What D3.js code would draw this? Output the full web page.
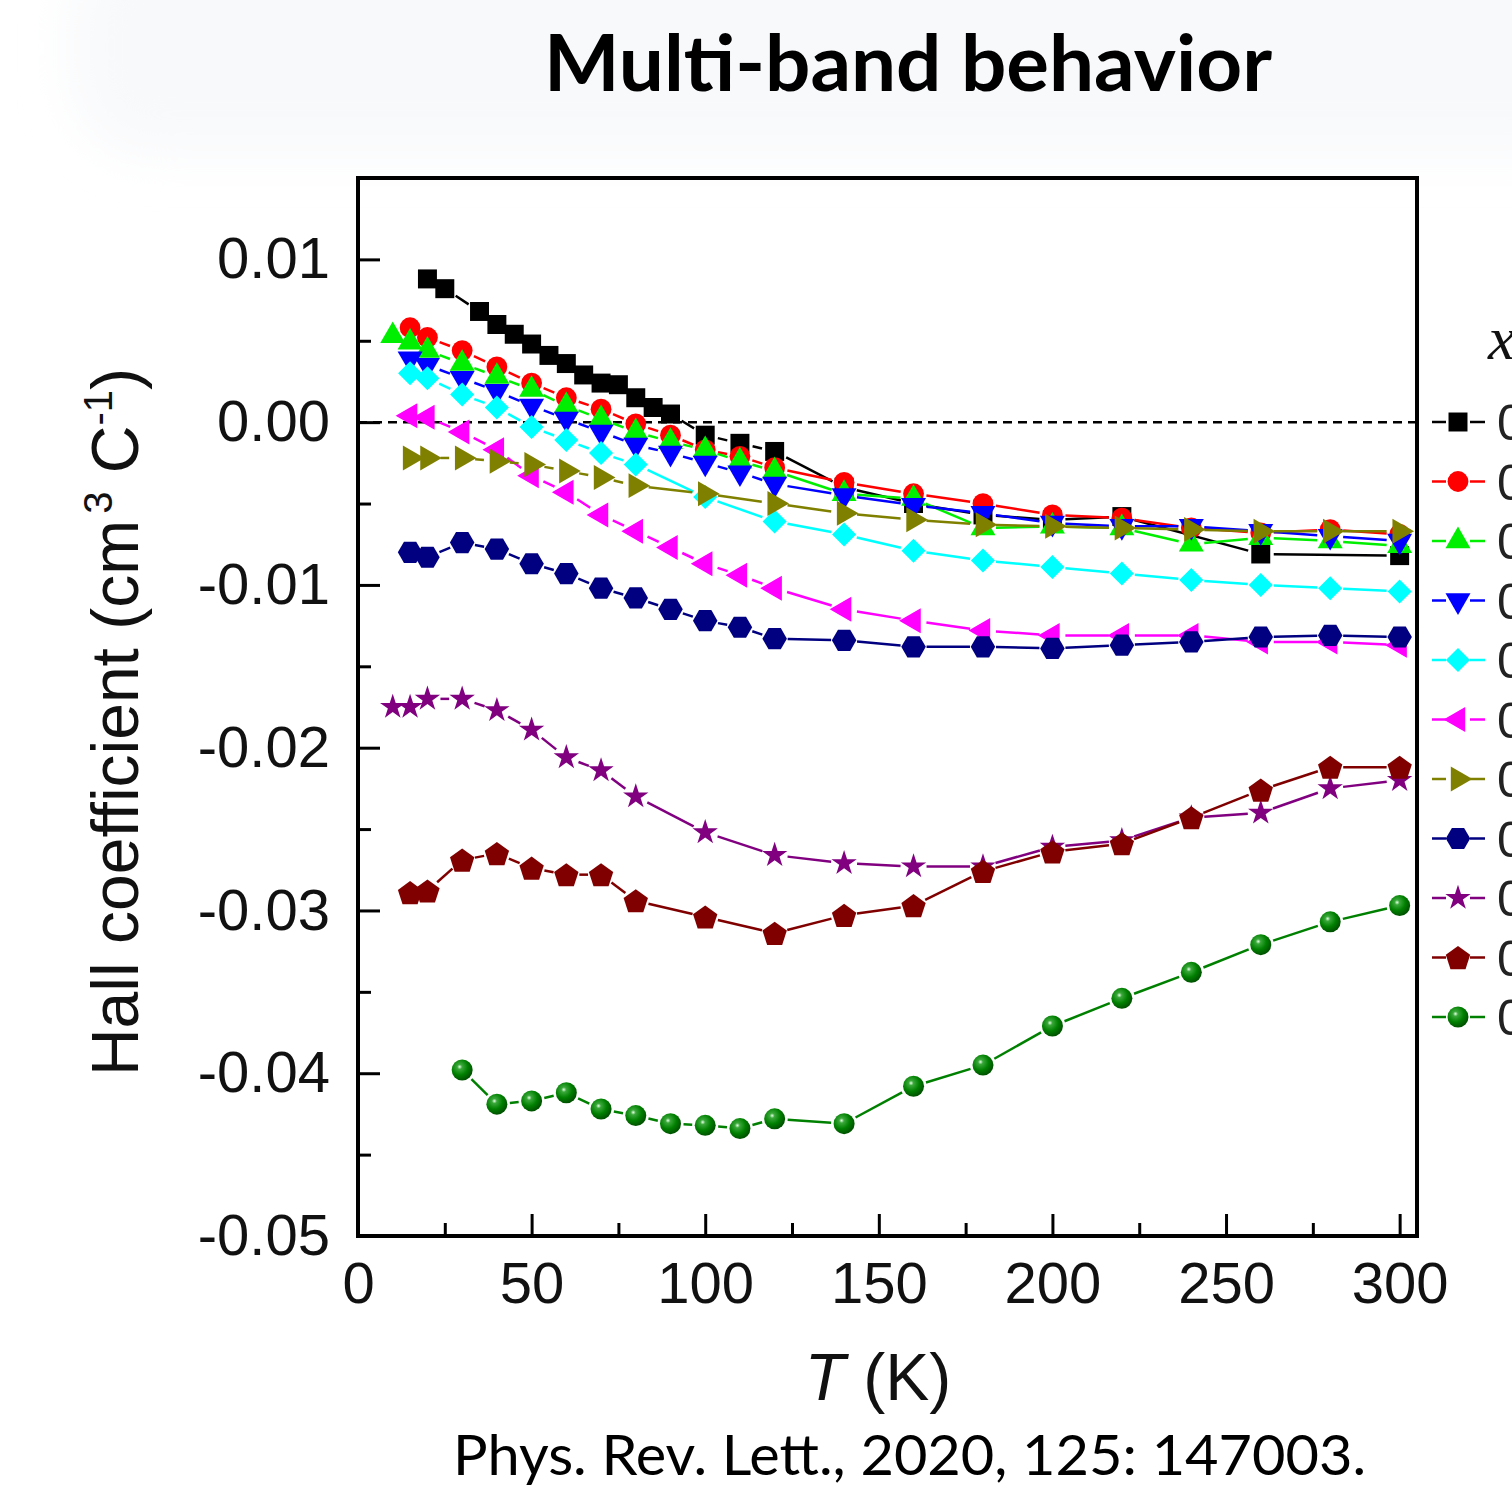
<!DOCTYPE html>
<html>
<head>
<meta charset="utf-8">
<script src="https://cdn.jsdelivr.net/npm/d3@7"></script>
<style>
  html, body { margin: 0; padding: 0; background: #ffffff; overflow: hidden; }
  svg { display: block; }
</style>
</head>
<body>
<svg id="chart" width="1512" height="1488"></svg>
<script>
// ---- data: Hall coefficient R_H (cm^3 C^-1) versus temperature T (K) ----
const seriesNames = ["0.00", "0.02", "0.04", "0.06", "0.08", "0.10", "0.12", "0.14", "0.16", "0.18", "0.20"];

const tBlack = [20, 25, 35, 40, 45, 50, 55, 60, 65, 70, 75, 80, 85, 90, 100, 110, 120, 140, 160, 180, 200, 220, 260, 300];
const rBlack = [0.0088, 0.0082, 0.0068, 0.0060, 0.0054, 0.0048, 0.0041, 0.0036, 0.0029, 0.0024, 0.0023, 0.0015, 0.0009, 0.0005, -0.0008, -0.0013, -0.0018, -0.0040, -0.0050, -0.0057, -0.0060, -0.0058, -0.0081, -0.0082];

const tRed = [15, 20, 30, 40, 50, 60, 70, 80, 90, 100, 110, 120, 140, 160, 180, 200, 220, 240, 260, 280, 300];
const rRed = [0.0058, 0.0052, 0.0044, 0.0034, 0.0024, 0.0015, 0.0008, -0.0001, -0.0008, -0.0017, -0.0021, -0.0028, -0.0037, -0.0044, -0.0050, -0.0057, -0.0059, -0.0065, -0.0068, -0.0066, -0.0069];

const tLime = [10, 15, 20, 30, 40, 50, 60, 70, 80, 90, 100, 110, 120, 140, 160, 180, 200, 220, 240, 260, 280, 300];
const rLime = [0.0053, 0.0049, 0.0044, 0.0036, 0.0028, 0.0020, 0.0010, 0.0002, -0.0006, -0.0012, -0.0017, -0.0024, -0.0030, -0.0044, -0.0047, -0.0065, -0.0064, -0.0065, -0.0075, -0.0071, -0.0073, -0.0076];

const tBlue = [15, 20, 30, 40, 50, 60, 70, 80, 90, 100, 110, 120, 140, 160, 180, 200, 220, 240, 260, 280, 300];
const rBlue = [0.0039, 0.0035, 0.0027, 0.0019, 0.0010, 0.0002, -0.0006, -0.0014, -0.0019, -0.0025, -0.0031, -0.0038, -0.0045, -0.0051, -0.0056, -0.0062, -0.0064, -0.0064, -0.0067, -0.0070, -0.0073];

const tCyan = [15, 20, 30, 40, 50, 60, 70, 80, 100, 120, 140, 160, 180, 200, 220, 240, 260, 280, 300];
const rCyan = [0.0030, 0.0027, 0.0017, 0.0009, -0.0003, -0.0011, -0.0019, -0.0026, -0.0046, -0.0061, -0.0069, -0.0079, -0.0085, -0.0089, -0.0093, -0.0097, -0.0100, -0.0102, -0.0104];

const tMagenta = [15, 20, 30, 40, 50, 60, 70, 80, 90, 100, 110, 120, 140, 160, 180, 200, 220, 240, 260, 280, 300];
const rMagenta = [0.0004, 0.0003, -0.0006, -0.0017, -0.0033, -0.0043, -0.0057, -0.0067, -0.0077, -0.0087, -0.0094, -0.0102, -0.0115, -0.0122, -0.0128, -0.0131, -0.0131, -0.0131, -0.0135, -0.0135, -0.0137];

const tOlive = [15, 20, 30, 40, 50, 60, 70, 80, 100, 120, 140, 160, 180, 200, 220, 240, 260, 280, 300];
const rOlive = [-0.0022, -0.0022, -0.0022, -0.0024, -0.0026, -0.0030, -0.0034, -0.0039, -0.0044, -0.0050, -0.0056, -0.0060, -0.0063, -0.0064, -0.0065, -0.0066, -0.0067, -0.0067, -0.0067];

const tNavy = [15, 20, 30, 40, 50, 60, 70, 80, 90, 100, 110, 120, 140, 160, 180, 200, 220, 240, 260, 280, 300];
const rNavy = [-0.0080, -0.0083, -0.0074, -0.0078, -0.0087, -0.0093, -0.0102, -0.0108, -0.0115, -0.0122, -0.0126, -0.0133, -0.0134, -0.0138, -0.0138, -0.0139, -0.0137, -0.0135, -0.0132, -0.0131, -0.0132];

const tPurple = [10, 15, 20, 30, 40, 50, 60, 70, 80, 100, 120, 140, 160, 180, 200, 220, 240, 260, 280, 300];
const rPurple = [-0.0175, -0.0175, -0.0170, -0.0170, -0.0177, -0.0189, -0.0206, -0.0214, -0.0230, -0.0252, -0.0266, -0.0271, -0.0273, -0.0273, -0.0261, -0.0257, -0.0243, -0.0240, -0.0225, -0.0220];

const tMaroon = [15, 20, 30, 40, 50, 60, 70, 80, 100, 120, 140, 160, 180, 200, 220, 240, 260, 280, 300];
const rMaroon = [-0.0289, -0.0288, -0.0269, -0.0265, -0.0274, -0.0278, -0.0278, -0.0294, -0.0304, -0.0314, -0.0303, -0.0297, -0.0276, -0.0264, -0.0259, -0.0243, -0.0226, -0.0212, -0.0212];

const tGreen = [30, 40, 50, 60, 70, 80, 90, 100, 110, 120, 140, 160, 180, 200, 220, 240, 260, 280, 300];
const rGreen = [-0.0398, -0.0419, -0.0417, -0.0412, -0.0422, -0.0426, -0.0431, -0.0432, -0.0434, -0.0428, -0.0431, -0.0408, -0.0395, -0.0371, -0.0354, -0.0338, -0.0321, -0.0307, -0.0297];

// axis ticks
const xMajorTicks = [0, 50, 100, 150, 200, 250, 300];
const xMinorTicks = [25, 75, 125, 175, 225, 275];
const yMajorTicks = [0.01, 0.00, -0.01, -0.02, -0.03, -0.04, -0.05];
const yTickLabels = ["0.01", "0.00", "-0.01", "-0.02", "-0.03", "-0.04", "-0.05"];
const yMinorTicks = [0.005, -0.005, -0.015, -0.025, -0.035, -0.045];

// ---- marker shapes ----
const hexagon = {
  draw(ctx, size) {
    const r = Math.sqrt(size / (3 * Math.sqrt(3) / 2));
    for (let i = 0; i < 6; i++) {
      const a = i * Math.PI / 3;
      const x = r * Math.cos(a), y = r * Math.sin(a);
      i ? ctx.lineTo(x, y) : ctx.moveTo(x, y);
    }
    ctx.closePath();
  }
};
const pentagon = {
  draw(ctx, size) {
    const r = Math.sqrt(size / (2.5 * Math.sin(2 * Math.PI / 5)));
    for (let i = 0; i < 5; i++) {
      const a = -Math.PI / 2 + i * 2 * Math.PI / 5;
      const x = r * Math.cos(a), y = r * Math.sin(a) + r * 0.1;
      i ? ctx.lineTo(x, y) : ctx.moveTo(x, y);
    }
    ctx.closePath();
  }
};

const series = [
  { t: tBlack,   r: rBlack,   color: "#000000", shape: d3.symbolSquare,   size: 360, rot: 0 },
  { t: tRed,     r: rRed,     color: "#ff0000", shape: d3.symbolCircle,   size: 340, rot: 0 },
  { t: tLime,    r: rLime,    color: "#00ee00", shape: d3.symbolTriangle, size: 270, rot: 0 },
  { t: tBlue,    r: rBlue,    color: "#0000ff", shape: d3.symbolTriangle, size: 270, rot: 180 },
  { t: tCyan,    r: rCyan,    color: "#00ffff", shape: d3.symbolSquare,   size: 290, rot: 45 },
  { t: tMagenta, r: rMagenta, color: "#ff00ff", shape: d3.symbolTriangle, size: 270, rot: -90 },
  { t: tOlive,   r: rOlive,   color: "#808000", shape: d3.symbolTriangle, size: 270, rot: 90 },
  { t: tNavy,    r: rNavy,    color: "#000080", shape: hexagon,           size: 390, rot: 0 },
  { t: tPurple,  r: rPurple,  color: "#800080", shape: d3.symbolStar,     size: 200, rot: 0 },
  { t: tMaroon,  r: rMaroon,  color: "#800000", shape: pentagon,          size: 390, rot: 0 },
  { t: tGreen,   r: rGreen,   color: "#008000", shape: "sphere",          size: 0,   rot: 0 }
];

// ---- layout ----
const svg = d3.select("#chart");
const plot = { left: 358, right: 1417, top: 178, bottom: 1236 };

const x = d3.scaleLinear().domain([0, 305]).range([plot.left, plot.right]);
const y = d3.scaleLinear().domain([-0.05, 0.015]).range([plot.bottom, plot.top]);

const defs = svg.append("defs");
const haze = defs.append("filter").attr("id", "haze").attr("x", "-20%").attr("y", "-50%").attr("width", "140%").attr("height", "200%");
haze.append("feGaussianBlur").attr("stdDeviation", 24);

const grad = defs.append("radialGradient").attr("id", "sphere")
  .attr("cx", "38%").attr("cy", "35%").attr("r", "65%");
grad.append("stop").attr("offset", "0%").attr("stop-color", "#e6ffe6");
grad.append("stop").attr("offset", "18%").attr("stop-color", "#3aa83a");
grad.append("stop").attr("offset", "60%").attr("stop-color", "#008000");
grad.append("stop").attr("offset", "100%").attr("stop-color", "#005200");

// faint light-grey band behind the heading
svg.append("rect")
  .attr("x", 70).attr("y", -60).attr("width", 1560).attr("height", 215)
  .attr("rx", 80)
  .attr("fill", "#f8f9fb")
  .attr("filter", "url(#haze)");

// heading
svg.append("text")
  .attr("x", 544).attr("y", 91)
  .attr("textLength", 728).attr("lengthAdjust", "spacingAndGlyphs")
  .attr("font-family", "Lato, 'Open Sans', sans-serif")
  .attr("font-weight", 700)
  .attr("font-size", 78)
  .attr("fill", "#000")
  .text("Multi-band behavior");

// clip for data inside the frame
defs.append("clipPath").attr("id", "plotClip")
  .append("rect")
  .attr("x", plot.left).attr("y", plot.top)
  .attr("width", plot.right - plot.left).attr("height", plot.bottom - plot.top);

// zero reference line
svg.append("line")
  .attr("x1", plot.left).attr("x2", plot.right)
  .attr("y1", y(0)).attr("y2", y(0))
  .attr("stroke", "#000").attr("stroke-width", 2.5)
  .attr("stroke-dasharray", "9,6");

// ---- axes (ticks point inward) ----
const fontAxis = "'Liberation Sans', Arial, Helvetica, sans-serif";

svg.append("g")
  .attr("transform", `translate(0,${plot.bottom})`)
  .call(d3.axisBottom(x).tickValues(xMajorTicks).tickSize(-22).tickPadding(26).tickFormat(d3.format("d")));
svg.append("g")
  .attr("transform", `translate(0,${plot.bottom})`)
  .call(d3.axisBottom(x).tickValues(xMinorTicks).tickSize(-13).tickFormat(""));

svg.append("g")
  .attr("transform", `translate(${plot.left},0)`)
  .call(d3.axisLeft(y).tickValues(yMajorTicks).tickSize(-22).tickPadding(28)
    .tickFormat((d, i) => yTickLabels[i]));
svg.append("g")
  .attr("transform", `translate(${plot.left},0)`)
  .call(d3.axisLeft(y).tickValues(yMinorTicks).tickSize(-13).tickFormat(""));

svg.selectAll(".domain").remove();
svg.selectAll(".tick line").attr("stroke", "#000").attr("stroke-width", 3);
svg.selectAll(".tick text")
  .attr("font-family", fontAxis).attr("font-size", 58).attr("fill", "#111");

// frame
svg.append("rect")
  .attr("x", plot.left).attr("y", plot.top)
  .attr("width", plot.right - plot.left).attr("height", plot.bottom - plot.top)
  .attr("fill", "none").attr("stroke", "#000").attr("stroke-width", 4);

// ---- series: line segments with a gap around each symbol, then symbols ----
const GAP = 13;
function gappedSegments(pts, gap) {
  const out = [];
  for (let i = 0; i < pts.length - 1; i++) {
    const [x0, y0] = pts[i], [x1, y1] = pts[i + 1];
    const dx = x1 - x0, dy = y1 - y0, d = Math.hypot(dx, dy);
    if (d > 2 * gap + 2) {
      out.push([x0 + dx / d * gap, y0 + dy / d * gap, x1 - dx / d * gap, y1 - dy / d * gap]);
    }
  }
  return out;
}

function drawMarker(sel, s) {
  if (s.shape === "sphere") {
    sel.append("circle").attr("r", 10.5).attr("fill", "url(#sphere)");
  } else {
    sel.append("path")
      .attr("d", d3.symbol().type(s.shape).size(s.size)())
      .attr("transform", s.rot ? `rotate(${s.rot})` : null)
      .attr("fill", s.color);
  }
}

const dataLayer = svg.append("g").attr("clip-path", "url(#plotClip)");

series.forEach((s, k) => {
  const pts = s.t.map((t, i) => [x(t), y(s.r[i])]);
  const g = dataLayer.append("g").attr("class", "series-" + k);
  g.selectAll("line")
    .data(gappedSegments(pts, GAP))
    .join("line")
    .attr("x1", d => d[0]).attr("y1", d => d[1])
    .attr("x2", d => d[2]).attr("y2", d => d[3])
    .attr("stroke", s.color).attr("stroke-width", 2.5)
    .attr("stroke-linecap", "butt");
  g.selectAll("g.pt")
    .data(pts)
    .join("g")
    .attr("class", "pt")
    .attr("transform", d => `translate(${d[0]},${d[1]})`)
    .each(function () { drawMarker(d3.select(this), s); });
});

// ---- legend (runs past the right edge of the page) ----
const legend = svg.append("g");
legend.append("text")
  .attr("x", 1488).attr("y", 359)
  .attr("font-family", "'Liberation Serif', 'Times New Roman', serif")
  .attr("font-style", "italic")
  .attr("font-size", 62)
  .attr("fill", "#111")
  .text("x");

const legY = d3.scaleLinear().domain([0, 10]).range([422, 1017]);
series.forEach((s, k) => {
  const cy = legY(k);
  const row = legend.append("g");
  row.append("line").attr("x1", 1432).attr("x2", 1446).attr("y1", cy).attr("y2", cy)
    .attr("stroke", s.color).attr("stroke-width", 2.5);
  row.append("line").attr("x1", 1470).attr("x2", 1485).attr("y1", cy).attr("y2", cy)
    .attr("stroke", s.color).attr("stroke-width", 2.5);
  const m = row.append("g").attr("transform", `translate(1458,${cy})`);
  drawMarker(m, s);
  row.append("text")
    .attr("x", 1497).attr("y", cy).attr("dy", "0.36em")
    .attr("font-family", fontAxis).attr("font-size", 50).attr("fill", "#222")
    .text(seriesNames[k]);
});

// ---- axis titles ----
svg.append("text")
  .attr("x", 878).attr("y", 1400)
  .attr("text-anchor", "middle")
  .attr("font-family", fontAxis).attr("font-size", 66).attr("fill", "#111")
  .call(t => {
    t.append("tspan").attr("font-style", "italic").text("T");
    t.append("tspan").text(" (K)");
  });

const yTitle = svg.append("text")
  .attr("transform", "translate(138,722) rotate(-90)")
  .attr("text-anchor", "middle")
  .attr("font-family", fontAxis).attr("font-size", 66).attr("fill", "#111");
yTitle.append("tspan").text("Hall coefficient (cm");
yTitle.append("tspan").attr("font-size", 40).attr("dy", -26).attr("dx", 6).text("3");
yTitle.append("tspan").attr("dy", 26).text(" C");
yTitle.append("tspan").attr("font-size", 40).attr("dy", -26).text("-1");
yTitle.append("tspan").attr("dy", 26).text(")");

// reference line below the chart
svg.append("text")
  .attr("x", 453).attr("y", 1475)
  .attr("textLength", 913).attr("lengthAdjust", "spacingAndGlyphs")
  .attr("font-family", "Lato, 'Open Sans', sans-serif")
  .attr("font-size", 56).attr("fill", "#000")
  .text("Phys. Rev. Lett., 2020, 125: 147003.");
</script>
</body>
</html>
